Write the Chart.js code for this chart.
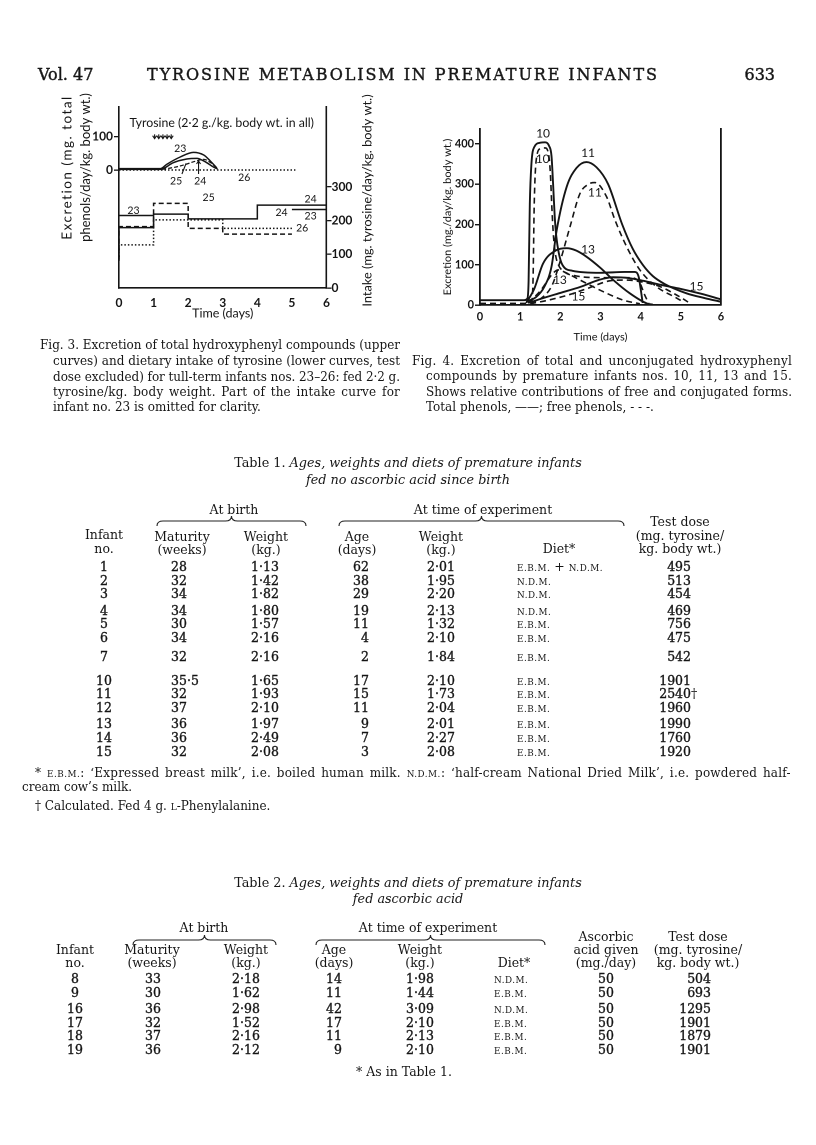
<!DOCTYPE html>
<html><head><meta charset="utf-8">
<script src="https://cdn.jsdelivr.net/npm/chart.js@4.4.1/dist/chart.umd.min.js"></script>
<style>
html,body{margin:0;padding:0;background:#fff;}
#page{position:relative;width:816px;height:1145px;overflow:hidden;font-family:"DejaVu Serif",serif;color:#151515;}
.t{position:absolute;white-space:nowrap;line-height:16px;font-size:12.5px;}
.c{transform:translate(-50%,-50%);}
.l{transform:translate(0,-50%);}
.r{transform:translate(-100%,-50%);}
.num{-webkit-text-stroke:0.35px #151515;}
.sc{font-size:8.8px;letter-spacing:0.5px;}
.it{font-style:italic;}
canvas{position:absolute;}
.line{position:absolute;white-space:nowrap;font-size:12px;line-height:15px;}
svg{position:absolute;left:0;top:0;}
</style>
</head><body><div id="page">
<canvas id="fig3"></canvas>
<canvas id="fig4"></canvas>
<svg id="braces" width="816" height="1145"></svg>
</div>
<script>
// ---------- Fig. 3 data ----------
const timeTicks = [0, 1, 2, 3, 4, 5, 6];
const fig3ExcretionTicks = [0, 100];
const fig3IntakeTicks = [0, 100, 200, 300];
const exc23Days = [0, 1.2, 1.38, 1.77, 2.15, 2.45, 2.64, 2.83];
const exc23 = [4, 4, 17, 39, 53, 45, 27, 6];
const exc24Days = [0, 1.2, 1.57, 1.96, 2.25, 2.49, 2.73, 2.85];
const exc24 = [2, 2, 22, 33, 35, 25, 9, 3];
const exc25Days = [1.25, 1.6, 1.9, 2.2, 2.45, 2.65, 2.82];
const exc25 = [2, 8, 16, 26, 32, 22, 6];
const exc26Days = [0, 5.1];
const exc26 = [0, 0];
const intake23 = [215, null, null, null, null, 233];
const intake24 = [80, 179, 219, 205, 205, 246];
const intake25 = [84, 182, 251, 177, 160];
const intake26 = [92, 128, 202, 202, 177];
const tyrosineDoseDays = [1.03, 1.15, 1.27, 1.39, 1.51];

// ---------- Fig. 4 data ----------
const fig4Ticks = [0, 100, 200, 300, 400];
const tot10Days = [0, 1.1, 1.18, 1.21, 1.24, 1.28, 1.35, 1.5, 1.62, 1.72, 1.78, 1.82, 1.86, 1.9, 1.96, 2.05, 2.3, 3.0, 3.6, 3.85, 3.95, 4.0, 4.05];
const tot10 = [12, 12, 16, 60, 250, 350, 392, 403, 404, 395, 370, 300, 220, 170, 130, 100, 85, 80, 82, 82, 70, 40, 5];
const free10Days = [0, 1.1, 1.28, 1.32, 1.35, 1.4, 1.5, 1.62, 1.7, 1.75, 1.79, 1.83, 1.88, 1.95, 2.1, 2.4, 3.0, 3.7, 3.95, 4.1, 4.2];
const free10 = [4, 4, 8, 60, 250, 360, 388, 390, 378, 330, 240, 170, 125, 100, 82, 72, 68, 68, 60, 25, 4];
const tot11Days = [1.15, 1.4, 1.6, 1.78, 1.91, 2.16, 2.4, 2.65, 2.9, 3.19, 3.54, 3.8, 4.05, 4.3, 4.6, 5.14, 5.6, 6.0];
const tot11 = [8, 20, 45, 95, 186, 294, 340, 355, 342, 300, 200, 140, 100, 72, 52, 29, 17, 8];
const free11Days = [1.25, 1.5, 1.8, 2.0, 2.24, 2.49, 2.7, 2.86, 3.15, 3.36, 3.65, 3.98, 4.4, 4.9, 5.05];
const free11 = [5, 15, 50, 110, 194, 277, 300, 304, 269, 211, 145, 87, 45, 17, 8];
const tot13Days = [1.15, 1.35, 1.57, 1.9, 2.16, 2.4, 2.65, 3.0, 3.32, 3.73, 4.15, 4.3];
const tot13 = [5, 40, 103, 136, 141, 135, 120, 92, 62, 29, 4, 1];
const free13Days = [1.2, 1.5, 1.82, 1.95, 2.1, 2.49, 3.07, 3.57, 3.98];
const free13 = [5, 35, 79, 87, 82, 62, 33, 12, 3];
const tot15Days = [1.2, 1.6, 2.0, 2.5, 2.95, 3.32, 3.7, 4.07, 4.5, 5.0, 5.5, 6.0];
const tot15 = [5, 18, 30, 45, 62, 69, 67, 60, 50, 40, 28, 14];
const free15Days = [1.25, 1.7, 2.2, 2.7, 3.23, 3.6, 4.05, 4.5, 4.8, 5.06, 5.2];
const free15 = [3, 12, 25, 42, 60, 62, 57, 45, 30, 15, 6];

// ---------- Table 1 ----------
const t1Infant = ['1','2','3','4','5','6','7','10','11','12','13','14','15'];
const t1Maturity = ['28','32','34','34','30','34','32','35·5','32','37','36','36','32'];
const t1BirthWt = ['1·13','1·42','1·82','1·80','1·57','2·16','2·16','1·65','1·93','2·10','1·97','2·49','2·08'];
const t1Age = ['62','38','29','19','11','4','2','17','15','11','9','7','3'];
const t1ExpWt = ['2·01','1·95','2·20','2·13','1·32','2·10','1·84','2·10','1·73','2·04','2·01','2·27','2·08'];
const t1Diet = ['E.B.M. + N.D.M.','N.D.M.','N.D.M.','N.D.M.','E.B.M.','E.B.M.','E.B.M.','E.B.M.','E.B.M.','E.B.M.','E.B.M.','E.B.M.','E.B.M.'];
const t1Dose = ['495','513','454','469','756','475','542','1901','2540†','1960','1990','1760','1920'];

// ---------- Table 2 ----------
const t2Infant = ['8','9','16','17','18','19'];
const t2Maturity = ['33','30','36','32','37','36'];
const t2BirthWt = ['2·18','1·62','2·98','1·52','2·16','2·12'];
const t2Age = ['14','11','42','17','11','9'];
const t2ExpWt = ['1·98','1·44','3·09','2·10','2·13','2·10'];
const t2Diet = ['N.D.M.','E.B.M.','N.D.M.','E.B.M.','E.B.M.','E.B.M.'];
const t2Ascorbic = ['50','50','50','50','50','50'];
const t2Dose = ['504','693','1295','1901','1879','1901'];

// ---------- page text helpers ----------
const page = document.getElementById('page');
function put(html, x, y, cls, extra) {
  const d = document.createElement('div');
  d.className = 't ' + (cls || 'c');
  d.style.left = x + 'px'; d.style.top = y + 'px';
  if (extra) d.style.cssText += extra;
  d.innerHTML = html;
  page.appendChild(d);
  return d;
}
// one typeset line; justified to width w (spread over letters and words) unless it is a last line
function line(html, x, y, w, last, extra) {
  const d = document.createElement('div');
  d.className = 'line';
  d.style.left = x + 'px'; d.style.top = (y - 7.5) + 'px';
  if (extra) d.style.cssText += extra;
  d.innerHTML = html;
  page.appendChild(d);
  if (!last) {
    const nat = d.getBoundingClientRect().width;
    const txt = d.textContent;
    const spaces = Math.max(1, (txt.match(/ /g) || []).length);
    const extraW = w - nat;
    const ls = extraW * 0.45 / txt.length;
    const ws = (extraW - ls * txt.length) / spaces;
    d.style.letterSpacing = ls + 'px';
    d.style.wordSpacing = ws + 'px';
  }
  return d;
}
function fitLetters(d, w) {
  const nat = d.getBoundingClientRect().width;
  d.style.letterSpacing = ((w - nat) / Math.max(1, d.textContent.length - 1)) + 'px';
}
function sc(s) { return s.replace(/(E\.B\.M\.|N\.D\.M\.)/g, m => '<span class="sc">' + m + '</span>'); }

// header
put('Vol. 47', 38, 75, 'l', 'font-size:16px;-webkit-text-stroke:0.4px #151515;');
fitLetters(put('TYROSINE METABOLISM IN PREMATURE INFANTS', 403, 75, 'c', 'font-size:16px;-webkit-text-stroke:0.4px #151515;'), 510);
put('633', 775, 75, 'r', 'font-size:16px;-webkit-text-stroke:0.4px #151515;');

// captions
const cap3 = ['Fig. 3. Excretion of total hydroxyphenyl compounds (upper',
  'curves) and dietary intake of tyrosine (lower curves, test',
  'dose excluded) for tull-term infants nos. 23–26: fed 2·2 g.',
  'tyrosine/kg. body weight. Part of the intake curve for',
  'infant no. 23 is omitted for clarity.'];
const cap3Y = [345, 361, 377, 392, 407];
cap3.forEach((s, i) => line(s, i ? 53 : 40, cap3Y[i], i ? 347 : 360, i === cap3.length - 1));
const cap4 = ['Fig. 4. Excretion of total and unconjugated hydroxyphenyl',
  'compounds by premature infants nos. 10, 11, 13 and 15.',
  'Shows relative contributions of free and conjugated forms.',
  'Total phenols, ——; free phenols, - - -.'];
const cap4Y = [361, 376, 392, 407];
cap4.forEach((s, i) => line(s, i ? 426 : 412, cap4Y[i], i ? 366 : 380, i === cap4.length - 1));

// ---------- Table 1 ----------
put('Table 1. <span class="it">Ages, weights and diets of premature infants</span>', 408, 463, 'c', 'font-size:12.8px;');
put('<span class="it">fed no ascorbic acid since birth</span>', 408, 480, 'c', 'font-size:12.8px;');
put('At birth', 234, 510); put('At time of experiment', 483, 510);
put('Infant', 104, 535); put('no.', 104, 549);
put('Maturity', 182, 537); put('(weeks)', 182, 550);
put('Weight', 266, 537); put('(kg.)', 266, 550);
put('Age', 357, 537); put('(days)', 357, 550);
put('Weight', 441, 537); put('(kg.)', 441, 550);
put('Diet*', 559, 549);
put('Test dose', 680, 522); put('(mg. tyrosine/', 680, 536); put('kg. body wt.)', 680, 549);
const t1RowY = [567, 581, 594, 611, 624, 638, 657, 681, 694, 708, 724, 738, 752];
t1RowY.forEach((y, i) => {
  put(t1Infant[i], 104, y, 'c num');
  put(t1Maturity[i], 171, y, 'l num');
  put(t1BirthWt[i], 265, y, 'c num');
  put(t1Age[i], 369, y, 'r num');
  put(t1ExpWt[i], 441, y, 'c num');
  put(sc(t1Diet[i]), 517, y, 'l');
  const dose = t1Dose[i];
  if (dose.endsWith('†')) put(dose.slice(0, -1) + '<span style="position:absolute;left:100%;-webkit-text-stroke:0;">†</span>', 691, y, 'r num');
  else put(dose, 691, y, 'r num');
});
line('* <span class="sc">E.B.M.</span>: ‘Expressed breast milk’, i.e. boiled human milk. <span class="sc">N.D.M.</span>: ‘half-cream National Dried Milk’, i.e. powdered half-', 35, 773, 758, false);
line('cream cow’s milk.', 22, 787, 200, true);
line('† Calculated. Fed 4 g. <span style="font-size:9px">L</span>-Phenylalanine.', 35, 806, 300, true);

// ---------- Table 2 ----------
put('Table 2. <span class="it">Ages, weights and diets of premature infants</span>', 408, 883, 'c', 'font-size:12.8px;');
put('<span class="it">fed ascorbic acid</span>', 408, 899, 'c', 'font-size:12.8px;');
put('At birth', 204, 928); put('At time of experiment', 428, 928);
put('Infant', 75, 950); put('no.', 75, 963);
put('Maturity', 152, 950); put('(weeks)', 152, 963);
put('Weight', 246, 950); put('(kg.)', 246, 963);
put('Age', 334, 950); put('(days)', 334, 963);
put('Weight', 420, 950); put('(kg.)', 420, 963);
put('Diet*', 514, 963);
put('Ascorbic', 606, 937); put('acid given', 606, 950); put('(mg./day)', 606, 963);
put('Test dose', 698, 937); put('(mg. tyrosine/', 698, 950); put('kg. body wt.)', 698, 963);
const t2RowY = [979, 993, 1009, 1023, 1036, 1050];
t2RowY.forEach((y, i) => {
  put(t2Infant[i], 75, y, 'c num');
  put(t2Maturity[i], 145, y, 'l num');
  put(t2BirthWt[i], 246, y, 'c num');
  put(t2Age[i], 342, y, 'r num');
  put(t2ExpWt[i], 420, y, 'c num');
  put(sc(t2Diet[i]), 494, y, 'l');
  put(t2Ascorbic[i], 606, y, 'c num');
  put(t2Dose[i], 711, y, 'r num');
});
put('* As in Table 1.', 404, 1072);

// braces
function brace(x1, x2, y) {
  const m = (x1 + x2) / 2;
  return `<path d="M${x1},${y+6} Q${x1},${y+1} ${x1+6},${y+1} L${m-6},${y+1} Q${m},${y+1} ${m},${y-4} Q${m},${y+1} ${m+6},${y+1} L${x2-6},${y+1} Q${x2},${y+1} ${x2},${y+6}" fill="none" stroke="#222" stroke-width="1.1"/>`;
}
document.getElementById('braces').innerHTML =
  brace(157, 306, 520) + brace(339, 624, 520) + brace(133, 276, 939) + brace(316, 545, 939);

// ---------- chart helpers ----------
function pts(xs, ys) { return xs.map((x, i) => ({ x: x, y: ys[i] })); }
function stepPts(vals) {
  const out = [];
  vals.forEach((v, i) => {
    if (v == null) {
      if (out.length && out[out.length - 1].y != null) { out.push({ x: i, y: vals[i - 1] }); out.push({ x: i, y: null }); }
    } else out.push({ x: i, y: v });
  });
  const last = vals[vals.length - 1];
  if (last != null) out.push({ x: vals.length, y: last });
  return out;
}
const INK = '#151515';
const SANS = 'Lato, "Open Sans", sans-serif';

const textLayer = {
  id: 'textLayer',
  afterDatasetsDraw(chart, args, opts) {
    const ctx = chart.ctx, ca = chart.chartArea, xs = chart.scales.x;
    ctx.save();
    ctx.fillStyle = INK; ctx.strokeStyle = INK;
    (opts.labels || []).forEach(l => {
      ctx.font = l.font || ('12px ' + SANS);
      ctx.textAlign = l.align || 'center'; ctx.textBaseline = 'middle';
      ctx.fillText(l.text, xs.getPixelForValue(l.x), chart.scales[l.axis].getPixelForValue(l.y));
    });
    (opts.titles || []).forEach(t => {
      ctx.save();
      ctx.font = t.font; ctx.textAlign = 'center'; ctx.textBaseline = 'middle';
      if ('letterSpacing' in ctx) ctx.letterSpacing = (t.spacing || 0) + 'px';
      const x = t.side === 'left' ? ca.left + t.dx : ca.right + t.dx;
      ctx.translate(x, (ca.top + ca.bottom) / 2 + t.dy);
      ctx.rotate(-Math.PI / 2);
      ctx.fillText(t.text, 0, 0);
      ctx.restore();
    });
    (opts.arrows || []).forEach(a => {
      const ys = chart.scales[a.axis];
      const x = xs.getPixelForValue(a.x), y1 = ys.getPixelForValue(a.from), y2 = ys.getPixelForValue(a.to);
      const x2 = a.x2 != null ? xs.getPixelForValue(a.x2) : x;
      ctx.lineWidth = 1.1;
      ctx.beginPath(); ctx.moveTo(x, y1); ctx.lineTo(x2, y2); ctx.stroke();
      if (a.head) {
        const dir = y2 > y1 ? 1 : -1;
        ctx.beginPath(); ctx.moveTo(x2 - 2, y2 - 3 * dir); ctx.lineTo(x2, y2); ctx.lineTo(x2 + 2, y2 - 3 * dir); ctx.stroke();
      }
    });
    ctx.restore();
  }
};

function fixedTicks(list) { return s => { s.ticks = list.map(v => ({ value: v })); }; }
function setW(w) { return s => { s.width = w; }; }
function setH(h) { return s => { s.height = h; }; }

// ---------- Fig. 3 ----------
const c3 = document.getElementById('fig3');
c3.style.left = '40px'; c3.style.top = '85px';
c3.width = 335; c3.height = 242; c3.style.width = '335px'; c3.style.height = '242px';
const curve = (label, data, axis, dash, w) => ({ label, data, yAxisID: axis, borderColor: INK, borderWidth: w || 1.5, borderDash: dash || [], pointRadius: 0, fill: false, cubicInterpolationMode: 'monotone' });
const step = (label, data, dash) => ({ label, data, yAxisID: 'yR', borderColor: INK, borderWidth: 1.5, borderDash: dash || [], pointRadius: 0, fill: false, stepped: 'after', spanGaps: false });
const nf = '10.5px ' + SANS;
new Chart(c3, {
  type: 'line',
  data: { datasets: [
    curve('Excretion 23', pts(exc23Days, exc23), 'yL'),
    curve('Excretion 24', pts(exc24Days, exc24), 'yL'),
    curve('Excretion 25', pts(exc25Days, exc25), 'yL', [4, 2], 1.2),
    curve('Excretion 26', pts(exc26Days, exc26), 'yL', [1.5, 2], 1.4),
    step('Intake 23', stepPts(intake23)),
    step('Intake 24', stepPts(intake24)),
    step('Intake 25', stepPts(intake25), [5, 3]),
    step('Intake 26', stepPts(intake26), [1.5, 2]),
  ] },
  options: {
    responsive: false, animation: false, devicePixelRatio: 2,
    layout: { padding: { top: 22, left: 0, right: 0, bottom: 0 } },
    plugins: { legend: { display: false }, tooltip: { enabled: false },
      textLayer: {
        labels: [
          { text: 'Tyrosine (2·2 g./kg. body wt. in all)', x: 2.97, y: 141, axis: 'yL', font: '12.3px ' + SANS },
          { text: '23', x: 1.77, y: 64, axis: 'yL', font: nf },
          { text: '25', x: 1.65, y: -33, axis: 'yL', font: nf },
          { text: '24', x: 2.35, y: -33, axis: 'yL', font: nf },
          { text: '26', x: 3.62, y: -23, axis: 'yL', font: nf },
          { text: '23', x: 0.42, y: 230, axis: 'yR', font: nf },
          { text: '25', x: 2.59, y: 268, axis: 'yR', font: nf },
          { text: '24', x: 4.7, y: 223, axis: 'yR', font: nf },
          { text: '24', x: 5.54, y: 264, axis: 'yR', font: nf },
          { text: '23', x: 5.54, y: 214, axis: 'yR', font: nf },
          { text: '26', x: 5.12, y: 177, axis: 'yR', align: 'left', font: nf },
        ],
        titles: [
          { text: 'Excretion (mg. total', side: 'left', dx: -52, dy: -30, font: '13.5px ' + SANS, spacing: 1.5 },
          { text: 'phenols/day/kg. body wt.)', side: 'left', dx: -33, dy: -30, font: '13px ' + SANS },
          { text: 'Intake (mg. tyrosine/day/kg. body wt.)', side: 'right', dx: 41, dy: 3, font: '12.8px ' + SANS },
        ],
        arrows: tyrosineDoseDays.map(d => ({ x: d, from: 107, to: 94, axis: 'yL', head: true })).concat([
          { x: 2.3, from: -12, to: 27, axis: 'yL', head: true },
          { x: 1.82, x2: 1.94, from: -12, to: 20, axis: 'yL', head: false },
        ]),
      } },
    scales: {
      x: { type: 'linear', min: 0, max: 6, afterBuildTicks: fixedTicks(timeTicks), afterFit: setH(39),
        grid: { display: false, drawTicks: false }, border: { display: true, color: INK, width: 1.6 },
        ticks: { color: INK, padding: 8, font: { family: SANS, size: 12, weight: 'bold' } },
        title: { display: true, text: 'Time (days)', color: INK, padding: { top: 0, bottom: 5.8 }, font: { family: SANS, size: 12.5 } } },
      yL: { type: 'linear', position: 'left', min: -354, max: 189, afterBuildTicks: fixedTicks(fig3ExcretionTicks), afterFit: setW(79),
        grid: { display: true, drawOnChartArea: false, drawTicks: true, tickLength: 5, color: INK, lineWidth: 1.3 },
        border: { display: true, color: INK, width: 1.6 },
        ticks: { color: INK, padding: 1, font: { family: SANS, size: 12, weight: 'bold' } } },
      yR: { type: 'linear', position: 'right', min: 0, max: 537, afterBuildTicks: fixedTicks(fig3IntakeTicks), afterFit: setW(48.5),
        grid: { display: true, drawOnChartArea: false, drawTicks: true, tickLength: 5, color: INK, lineWidth: 1.3 },
        border: { display: true, color: INK, width: 1.6 },
        ticks: { color: INK, padding: 0, font: { family: SANS, size: 12, weight: 'bold' } } },
    }
  },
  plugins: [textLayer]
});

// ---------- Fig. 4 ----------
const c4 = document.getElementById('fig4');
c4.style.left = '425px'; c4.style.top = '118px';
c4.width = 315; c4.height = 232; c4.style.width = '315px'; c4.style.height = '232px';
const c4s = (label, xs, ys, dashed) => ({ label, data: pts(xs, ys), yAxisID: 'y', borderColor: INK, borderWidth: dashed ? 1.6 : 1.9, borderDash: dashed ? [6, 4] : [], pointRadius: 0, fill: false, cubicInterpolationMode: 'monotone' });
const lf = '12px ' + SANS;
new Chart(c4, {
  type: 'line',
  data: { datasets: [
    c4s('10 total', tot10Days, tot10), c4s('10 free', free10Days, free10, true),
    c4s('11 total', tot11Days, tot11), c4s('11 free', free11Days, free11, true),
    c4s('13 total', tot13Days, tot13), c4s('13 free', free13Days, free13, true),
    c4s('15 total', tot15Days, tot15), c4s('15 free', free15Days, free15, true),
  ] },
  options: {
    responsive: false, animation: false, devicePixelRatio: 2,
    layout: { padding: { top: 11, left: 0, right: 19, bottom: 0 } },
    plugins: { legend: { display: false }, tooltip: { enabled: false },
      textLayer: { labels: [
        { text: '10', x: 1.57, y: 425, axis: 'y', font: lf }, { text: '10', x: 1.56, y: 362, axis: 'y', font: lf },
        { text: '11', x: 2.69, y: 377, axis: 'y', font: lf }, { text: '11', x: 2.86, y: 279, axis: 'y', font: lf },
        { text: '13', x: 2.69, y: 137, axis: 'y', font: lf }, { text: '13', x: 1.99, y: 62, axis: 'y', font: lf },
        { text: '15', x: 2.45, y: 21, axis: 'y', font: lf }, { text: '15', x: 5.39, y: 46, axis: 'y', font: lf },
      ] } },
    scales: {
      x: { type: 'linear', min: 0, max: 6, afterBuildTicks: fixedTicks(timeTicks), afterFit: setH(45),
        grid: { display: false, drawTicks: false }, border: { display: true, color: INK, width: 1.8 },
        ticks: { color: INK, padding: 5.5, font: { family: SANS, size: 11, weight: 'bold' } },
        title: { display: true, text: 'Time (days)', color: INK, padding: { top: 0, bottom: 6.4 }, font: { family: SANS, size: 11 } } },
      y: { type: 'linear', position: 'left', min: 0, max: 437, afterBuildTicks: fixedTicks(fig4Ticks), afterFit: setW(55),
        grid: { display: true, drawOnChartArea: false, drawTicks: true, tickLength: 5, color: INK, lineWidth: 1.4 },
        border: { display: true, color: INK, width: 1.8 },
        ticks: { color: INK, padding: 1, font: { family: SANS, size: 11, weight: 'bold' } },
        title: { display: true, text: 'Excretion (mg./day/kg. body wt.)', color: INK, padding: { top: 16, bottom: 0 }, font: { family: SANS, size: 11 } } },
      yR: { type: 'linear', position: 'right', min: 0, max: 437, afterFit: setW(0),
        grid: { display: false, drawTicks: false }, ticks: { display: false },
        border: { display: true, color: INK, width: 1.8 } },
    }
  },
  plugins: [textLayer]
});
</script>
</body></html>
